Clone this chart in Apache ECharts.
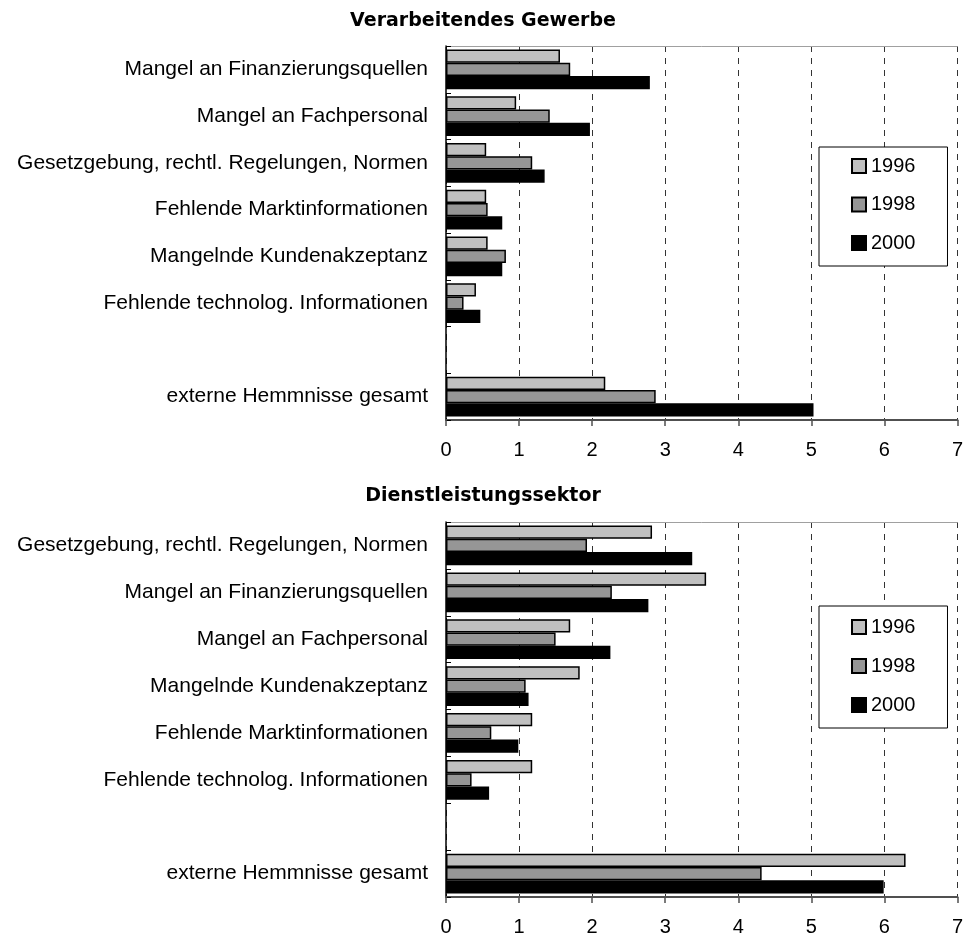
<!DOCTYPE html>
<html><head><meta charset="utf-8">
<script src="https://cdn.jsdelivr.net/npm/echarts@6/dist/echarts.min.js"></script>
<style>html,body{margin:0;padding:0;background:#fff}#c{width:966px;height:937px}</style>
</head><body><div id="c"></div>
<script>
const years = ['1996', '1998', '2000'];
const titleTop = 'Verarbeitendes Gewerbe';
const titleBottom = 'Dienstleistungssektor';
const catsTop = ['Mangel an Finanzierungsquellen', 'Mangel an Fachpersonal', 'Gesetzgebung, rechtl. Regelungen, Normen', 'Fehlende Marktinformationen', 'Mangelnde Kundenakzeptanz', 'Fehlende technolog. Informationen', '', 'externe Hemmnisse gesamt'];
const top1996 = [1.56, 0.96, 0.55, 0.55, 0.57, 0.41, null, 2.18];
const top1998 = [1.70, 1.42, 1.18, 0.57, 0.82, 0.24, null, 2.87];
const top2000 = [2.79, 1.97, 1.35, 0.77, 0.77, 0.47, null, 5.03];
const catsBottom = ['Gesetzgebung, rechtl. Regelungen, Normen', 'Mangel an Finanzierungsquellen', 'Mangel an Fachpersonal', 'Mangelnde Kundenakzeptanz', 'Fehlende Marktinformationen', 'Fehlende technolog. Informationen', '', 'externe Hemmnisse gesamt'];
const bot1996 = [2.82, 3.56, 1.70, 1.83, 1.18, 1.18, null, 6.29];
const bot1998 = [1.93, 2.27, 1.50, 1.09, 0.62, 0.35, null, 4.32];
const bot2000 = [3.37, 2.77, 2.25, 1.13, 0.99, 0.59, null, 5.99];
const xMin = 0, xMax = 7, xStep = 1;

const colors = ['#c0c0c0', '#969696', '#000000'];
const FONT = '"Liberation Sans", Arial, sans-serif';

const chart = echarts.init(document.getElementById('c'), null, {renderer: 'canvas'});

const grids = [
  {left: 446, top: 46, width: 512, height: 374},
  {left: 446, top: 522, width: 512, height: 377}
];

function valueAxis(gi) {
  return {
    type: 'value', gridIndex: gi, position: 'bottom', min: xMin, max: xMax, interval: xStep,
    axisLine: {show: true, lineStyle: {color: '#505050', width: 2}},
    axisTick: {show: true, length: 6, lineStyle: {color: '#505050', width: 1.5}},
    axisLabel: {color: '#000', fontSize: 20, fontFamily: FONT, margin: 20},
    splitLine: {show: true, lineStyle: {color: '#333', type: [6, 6], width: 1}}
  };
}
function topBorder(gi) {
  return {
    type: 'value', gridIndex: gi, position: 'top', min: xMin, max: xMax, interval: xStep,
    axisLine: {show: true, lineStyle: {color: '#a0a0a0', width: 1}},
    axisTick: {show: false}, axisLabel: {show: false}, splitLine: {show: false}
  };
}
function catAxis(gi, cats) {
  return {
    type: 'category', gridIndex: gi, data: cats, inverse: true,
    axisLine: {show: true, onZero: false, lineStyle: {color: '#000', width: 1.5}},
    axisTick: {show: true, inside: true, length: 5, lineStyle: {color: '#000'}},
    axisLabel: {color: '#000', fontSize: 21, fontFamily: FONT, margin: 18},
    splitLine: {show: false}
  };
}
function bar(name, gi, data, ci) {
  return {
    type: 'bar', name: name, xAxisIndex: gi * 2, yAxisIndex: gi, data: data,
    barGap: '0%', barCategoryGap: '15%',
    itemStyle: {color: colors[ci], borderColor: '#000', borderWidth: 1.5},
    emphasis: {disabled: true}, animation: false
  };
}
function legend(top, gap, padTop) {
  return {
    orient: 'vertical', left: 819, top: top, data: years,
    icon: 'rect', itemWidth: 14, itemHeight: 14, itemGap: gap,
    padding: [padTop, 32, 13, 32],
    borderColor: '#000', borderWidth: 1, backgroundColor: '#fff',
    textStyle: {color: '#000', fontSize: 20, fontFamily: FONT, lineHeight: 20},
    selectedMode: false
  };
}

chart.setOption({
  animation: false,
  backgroundColor: '#fff',
  grid: grids,
  xAxis: [valueAxis(0), topBorder(0), valueAxis(1), topBorder(1)],
  yAxis: [catAxis(0, catsTop), catAxis(1, catsBottom)],
  legend: [legend(147, 18.5, 9), legend(606, 19, 11)],
  graphic: [
    {type: 'text', x: 483, y: 21, style: {text: titleTop, fill: '#000', font: 'bold 19px "DejaVu Sans", sans-serif', textAlign: 'center', textVerticalAlign: 'middle'}},
    {type: 'text', x: 483, y: 496, style: {text: titleBottom, fill: '#000', font: 'bold 19px "DejaVu Sans", sans-serif', textAlign: 'center', textVerticalAlign: 'middle'}}
  ],
  series: [
    bar(years[0], 0, top1996, 0), bar(years[1], 0, top1998, 1), bar(years[2], 0, top2000, 2),
    bar(years[0], 1, bot1996, 0), bar(years[1], 1, bot1998, 1), bar(years[2], 1, bot2000, 2)
  ]
});
</script>
</body></html>
